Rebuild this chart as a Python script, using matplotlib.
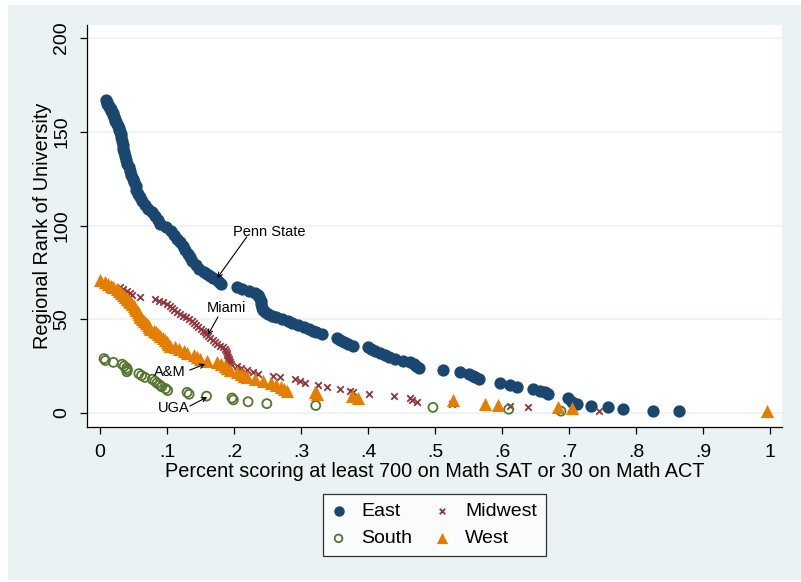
import matplotlib
matplotlib.use("Agg")
import matplotlib.pyplot as plt
from matplotlib.patches import Rectangle

plt.rcParams['font.family'] = ['Liberation Sans', 'DejaVu Sans']

# ---------------- data ----------------
east_x = [.009, .010, .011, .013, .014, .016, .017, .019, .020, .021, .022, .023, .024, .026,
          .027, .028, .029, .030, .031, .032, .033, .034, .035, .036, .037, .039, .041, .043,
          .045, .047, .049, .051, .053, .054, .056, .059, .063, .067, .072, .077, .082, .086,
          .090, .098, .106, .111, .115, .120, .124, .127, .131, .134, .138, .143, .148, .155,
          .160, .164, .169, .174, .177, .180,
          .205, .212, .222, .232, .236, .238, .240, .241, .242, .243, .246, .250, .256, .262,
          .272, .280, .287, .295, .305, .312, .318, .323, .331, .354, .358, .364, .370, .378,
          .400, .405, .411, .418, .425, .432, .440, .452, .462, .468, .472, .476, .512, .537,
          .550, .556, .560, .565, .597, .612, .622, .646, .657, .664, .668, .699, .705, .712,
          .733, .758, .780, .826, .864]
east_y = [167, 166, 165, 164, 163, 162, 161, 160, 159, 158, 157, 156, 155, 154,
          153, 152, 151, 150, 149, 147, 145, 143, 141, 139, 137, 135, 133, 131,
          129, 127, 125, 123, 121, 119, 117, 115, 113, 111, 109, 107, 105, 103,
          101, 99, 97, 95, 93, 91, 89, 87, 85, 83, 81, 79, 77, 75,
          74, 73, 72, 71, 70, 69,
          67, 66, 65, 64, 63, 62, 60, 58, 56, 55, 54, 53, 52, 51,
          50, 49, 48, 47, 46, 45, 44, 43, 42, 40, 39, 38, 37, 36,
          35, 34, 33, 32, 31, 30, 29, 28, 27, 26, 25, 24, 23, 22,
          21, 20, 19, 18, 16, 15, 14, 13, 12, 11, 10, 8, 6, 5,
          4, 3, 2, 1, 1]

midwest_x = [.030, .035, .040, .045, .048, .060, .082, .088, .094, .100, .104, .107, .110,
             .115, .119, .124, .128, .133, .137, .140, .144, .147, .150, .153, .156, .158,
             .161, .164, .168, .171, .174, .179, .183, .186, .188, .189, .190, .191, .192,
             .193, .194, .196, .204, .210, .219, .229, .236, .258, .268, .291, .299, .306,
             .326, .339, .358, .373, .378, .401, .439, .463, .465, .473, .525, .612, .639, .745]
midwest_y = [67, 66, 65, 64, 63, 62, 61, 60, 59, 58, 57, 56, 55,
             54, 53, 52, 51, 50, 49, 48, 47, 46, 45, 44, 43, 42,
             41, 40, 39, 38, 37, 36, 35, 34, 33, 32, 31, 30, 29,
             28, 27, 26, 25, 24, 23, 22, 21, 20, 19, 18, 17, 16,
             15, 14, 13, 12, 11, 10, 9, 8, 7, 6, 5, 4, 3, 1]

south_x = [.006, .008, .020, .033, .036, .040, .041, .040, .058, .062, .067, .078, .082,
           .085, .089, .092, .098, .101, .130, .133, .159, .197, .199, .221, .249, .322,
           .497, .610, .688]
south_y = [29, 28, 27, 26, 25, 24, 23, 22, 21, 20, 19, 18, 17,
           16, 15, 14, 13, 12, 11, 10, 9, 8, 7, 6, 5, 4,
           3, 2, 1]

west_x = [.000, .008, .012, .016, .020, .025, .028, .031, .034, .037, .040, .043, .045,
          .048, .050, .052, .054, .056, .058, .059, .060, .063, .066, .069, .071, .073,
          .075, .080, .084, .087, .090, .094, .097, .100, .102, .104, .112, .118, .125,
          .130, .140, .145, .149, .160, .174, .180, .186, .190, .194, .205, .210, .215,
          .219, .232, .244, .255, .262, .270, .275, .279, .321, .324, .376, .385, .527,
          .575, .594, .684, .704, .996]
west_y = [71, 70, 69, 68, 67, 66, 65, 64, 63, 62, 61, 60, 59,
          58, 57, 56, 55, 54, 53, 52, 51, 50, 49, 48, 47, 46,
          45, 44, 43, 42, 41, 40, 39, 38, 37, 36, 35, 34, 33,
          32, 31, 30, 29, 28, 27, 26, 25, 24, 23, 22, 21, 20,
          19, 18, 17, 16, 15, 14, 13, 12, 11, 10, 9, 8, 7,
          5, 4.5, 3, 2.5, 1]

x_ticks = [0, .1, .2, .3, .4, .5, .6, .7, .8, .9, 1]
x_ticklabels = ["0", ".1", ".2", ".3", ".4", ".5", ".6", ".7", ".8", ".9", "1"]
y_ticks = [0, 50, 100, 150, 200]

# labels: (text, text position, arrow start, labelled point)
annotations = [
    ("Penn State", (.252, 96.5), (.219, 93.9), (.175, 72.0)),
    ("Miami", (.188, 56.0), (.176, 51.2), (.161, 41.6)),
    ("A&M", (.104, 21.9), (.134, 22.9), (.157, 26.1)),
    ("UGA", (.110, 2.7), (.134, 3.7), (.160, 8.5)),
]

# ---------------- styling ----------------
BG = '#EAF2F3'
C_EAST = '#1A476F'
C_MID = '#90353B'
C_SOUTH = '#55752F'
C_WEST = '#E37E00'

W, H = 801, 582
fig = plt.figure(figsize=(W / 100, H / 100), dpi=100, facecolor='white')
fig.patches.append(Rectangle((8 / W, 2 / H), (W - 8) / W, 575 / H,
                             transform=fig.transFigure, facecolor=BG,
                             edgecolor='none', zorder=-10))

ax = fig.add_axes([87 / W, 1 - 427 / H, (782 - 87) / W, (427 - 25) / H])
ax.set_facecolor('white')

ax.set_xlim((87 - 100) / 670, (782 - 100) / 670)
ax.set_ylim((413 - 427) / 1.875, (413 - 25) / 1.875)

for yt in y_ticks:
    ax.axhline(yt, color=BG, lw=1.2, zorder=0)

h_e = ax.scatter(east_x, east_y, s=78, color=C_EAST, marker='o', linewidths=0, zorder=3, label='East')
h_m = ax.scatter(midwest_x, midwest_y, s=22, color=C_MID, marker='x', linewidths=1.3, zorder=3, label='Midwest')
h_s = ax.scatter(south_x, south_y, s=42, facecolors='none', edgecolors=C_SOUTH, marker='o', linewidths=1.3, zorder=3, label='South')
h_w = ax.scatter(west_x, west_y, s=90, color=C_WEST, marker='^', linewidths=0, zorder=3, label='West')

for txt, tpos, start, end in annotations:
    ax.text(tpos[0], tpos[1], txt, ha='center', va='center', fontsize=10.5, zorder=5)
    ax.annotate('', xy=end, xytext=start,
                arrowprops=dict(arrowstyle='->', color='black', lw=0.8,
                                shrinkA=0, shrinkB=0, mutation_scale=8), zorder=5)

for side in ['top', 'right']:
    ax.spines[side].set_visible(False)
for side in ['left', 'bottom']:
    ax.spines[side].set_color('black')
    ax.spines[side].set_linewidth(0.9)

ax.set_xticks(x_ticks)
ax.set_xticklabels(x_ticklabels)
ax.set_yticks(y_ticks)
ax.set_yticklabels([str(v) for v in y_ticks], rotation=90, va='center')
ax.tick_params(axis='both', direction='out', length=5, width=0.9, labelsize=14, pad=7)

ax.set_xlabel("Percent scoring at least 700 on Math SAT or 30 on Math ACT", fontsize=14.3, labelpad=1)
ax.set_ylabel("Regional Rank of University", fontsize=14.3, labelpad=1)

leg = fig.legend(handles=[h_e, h_s, h_m, h_w], labels=['East', 'South', 'Midwest', 'West'],
                 loc='center', bbox_to_anchor=(434.5 / W, 1 - 525 / H), ncol=2,
                 fontsize=14, frameon=True, fancybox=False, edgecolor='black',
                 handlelength=0.65, handletextpad=0.85, columnspacing=1.2,
                 borderpad=0.45, labelspacing=0.5,
                 scatterpoints=1, markerscale=0.85)
leg.get_frame().set_linewidth(0.9)
leg.get_frame().set_facecolor('white')

fig.savefig("out.png", dpi=100, facecolor=fig.get_facecolor())
